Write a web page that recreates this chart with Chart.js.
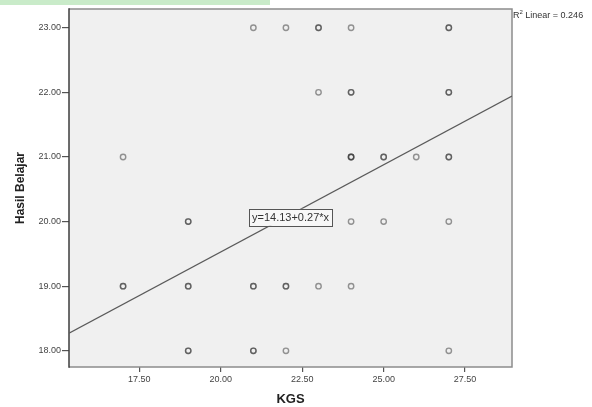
<!DOCTYPE html>
<html>
<head>
<meta charset="utf-8">
<script src="https://cdn.jsdelivr.net/npm/chart.js@4.4.1/dist/chart.umd.min.js"></script>
<style>
  html, body { margin: 0; padding: 0; background: #ffffff; }
  #wrap { position: relative; width: 592px; height: 407px; }
  #hl { position: absolute; left: 0; top: 0; width: 270px; height: 5px; background: #c9ebc9; }
  canvas { position: absolute; left: 0; top: 0; }
</style>
</head>
<body>
<div id="wrap">
  <canvas id="c" width="592" height="407"></canvas>
  <div id="hl"></div>
</div>
<script>
// ---- data (duplicates are overlapping cases) ----
const kgs   = [21,22,23,23,24,27,27,
               23,24,24,27,27,
               17,24,24,24,25,25,26,27,27,
               19,19,24,25,27,
               17,17,19,19,21,21,22,22,23,24,
               19,19,21,21,22,27];
const hasil = [23,23,23,23,23,23,23,
               22,22,22,22,22,
               21,21,21,21,21,21,21,21,21,
               20,20,20,20,20,
               19,19,19,19,19,19,19,19,19,19,
               18,18,18,18,18,18];
const xTicks = [17.5, 20, 22.5, 25, 27.5];
const yTicks = [18, 19, 20, 21, 22, 23];
const intercept = 14.13;
const slope = 0.27;
const rSquared = 0.246;
const xTitle = 'KGS';
const yTitle = 'Hasil Belajar';

const xMin = 15.34, xMax = 28.94, yMin = 17.75, yMax = 23.29;
const FONT = "'Liberation Sans', Arial, sans-serif";

const points = kgs.map((x, i) => ({ x: x, y: hasil[i] }));
const fitLine = [xMin, xMax].map(x => ({ x: x, y: intercept + slope * x }));

const framePlugin = {
  id: 'frame',
  beforeDraw(chart) {
    const { ctx, chartArea: a } = chart;
    ctx.save();
    ctx.fillStyle = '#f0f0f0';
    ctx.fillRect(a.left, a.top, a.right - a.left, a.bottom - a.top);
    ctx.restore();
  },
  beforeDatasetsDraw(chart) {
    const { ctx, chartArea: a } = chart;
    ctx.save();
    ctx.strokeStyle = '#8c8c8c';
    ctx.lineWidth = 1.5;
    ctx.beginPath();
    ctx.moveTo(a.left, a.top); ctx.lineTo(a.right, a.top);
    ctx.lineTo(a.right, a.bottom); ctx.lineTo(a.left, a.bottom);
    ctx.stroke();
    ctx.strokeStyle = '#3c3c3c';
    ctx.beginPath();
    ctx.moveTo(a.left, a.top - 0.75); ctx.lineTo(a.left, a.bottom + 0.75);
    ctx.stroke();
    ctx.restore();
  },
  afterDraw(chart) {
    const { ctx, chartArea: a, scales } = chart;
    ctx.save();
    // equation label
    const label = 'y=' + intercept.toFixed(2) + '+' + slope.toFixed(2) + '*x';
    const cx = scales.x.getPixelForValue(22.14);
    const cy = scales.y.getPixelForValue(20.066);
    ctx.font = '11px ' + FONT;
    const w = ctx.measureText(label).width + 6;
    const h = 17;
    ctx.fillStyle = '#f7f7f7';
    ctx.fillRect(cx - w / 2, cy - h / 2, w, h);
    ctx.strokeStyle = '#555555';
    ctx.lineWidth = 1;
    ctx.strokeRect(Math.round(cx - w / 2) + 0.5, Math.round(cy - h / 2) + 0.5, Math.round(w), h);
    ctx.fillStyle = '#333333';
    ctx.textAlign = 'center';
    ctx.textBaseline = 'middle';
    ctx.fillText(label, cx, cy + 0.5);
    // R squared label
    ctx.textAlign = 'left';
    ctx.font = '9px ' + FONT;
    ctx.fillStyle = '#333333';
    const x0 = a.right + 1;
    ctx.fillText('R', x0, 16);
    const rw = ctx.measureText('R').width;
    ctx.font = '6px ' + FONT;
    ctx.fillText('2', x0 + rw, 12.5);
    const sw = ctx.measureText('2').width;
    ctx.font = '9px ' + FONT;
    ctx.fillText(' Linear = ' + rSquared.toFixed(3), x0 + rw + sw, 16);
    ctx.restore();
  }
};

new Chart(document.getElementById('c'), {
  type: 'scatter',
  data: {
    datasets: [
      {
        data: points,
        pointRadius: 2.7,
        pointHoverRadius: 2.7,
        pointBorderWidth: 1.4,
        pointBackgroundColor: 'rgba(0,0,0,0)',
        pointBorderColor: 'rgba(50,50,50,0.5)',
        showLine: false
      },
      {
        data: fitLine,
        showLine: true,
        pointRadius: 0,
        borderColor: '#5a5a5a',
        borderWidth: 1.2,
        fill: false
      }
    ]
  },
  options: {
    responsive: false,
    animation: false,
    events: [],
    layout: { padding: { left: 0, right: 80, top: 9, bottom: 0 } },
    plugins: { legend: { display: false }, tooltip: { enabled: false } },
    scales: {
      x: {
        type: 'linear',
        min: xMin, max: xMax,
        afterBuildTicks: s => { s.ticks = xTicks.map(v => ({ value: v })); },
        afterFit: s => { s.height = 40; },
        border: { display: false },
        grid: { drawOnChartArea: false, drawTicks: true, tickLength: 5, color: '#555555', lineWidth: 1.2 },
        ticks: {
          callback: v => Number(v).toFixed(2),
          font: { family: FONT, size: 9 },
          color: '#444444',
          padding: 2,
          maxRotation: 0
        },
        title: {
          display: true,
          text: xTitle,
          font: { family: FONT, size: 13, weight: 'bold' },
          color: '#222222',
          padding: { top: 0, bottom: 0 }
        }
      },
      y: {
        type: 'linear',
        min: yMin, max: yMax,
        afterBuildTicks: s => { s.ticks = yTicks.map(v => ({ value: v })); },
        afterFit: s => { s.width = 69; },
        border: { display: false },
        grid: { drawOnChartArea: false, drawTicks: true, tickLength: 7, color: '#555555', lineWidth: 1.2 },
        ticks: {
          callback: v => Number(v).toFixed(2),
          font: { family: FONT, size: 9 },
          color: '#444444',
          padding: 1
        },
        title: {
          display: true,
          text: yTitle,
          font: { family: FONT, size: 12, weight: 'bold' },
          color: '#222222',
          padding: { top: 13, bottom: 0 }
        }
      }
    }
  },
  plugins: [framePlugin]
});
</script>
</body>
</html>
